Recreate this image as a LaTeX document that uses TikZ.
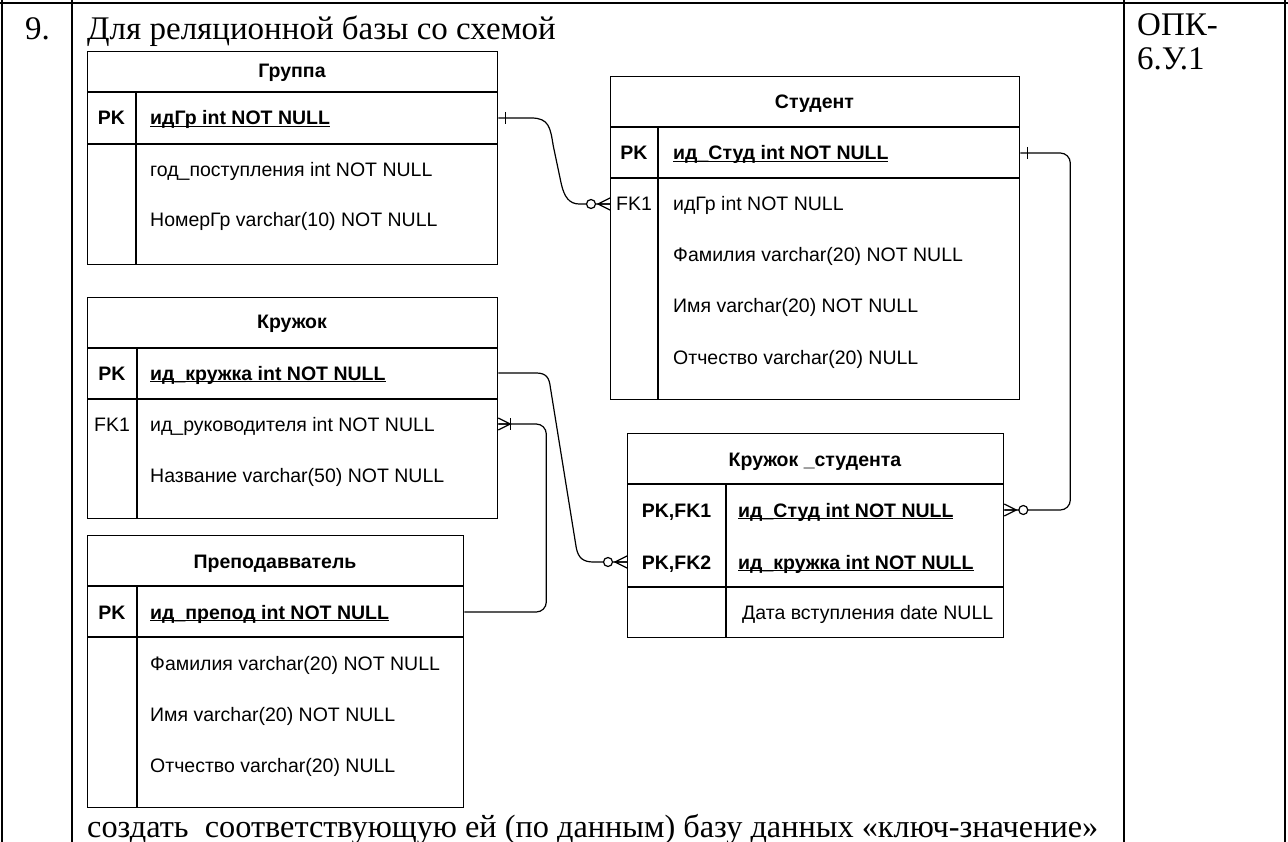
\documentclass[tikz,border=0pt]{standalone}
\usepackage{fontspec}
\setmainfont{Liberation Serif}
\setsansfont{Liberation Sans}
\usepackage{tikz}
\newcommand{\erfont}{\sffamily\fontsize{19.5}{23}\selectfont}
\newcommand{\docfont}{\rmfamily\fontsize{33}{36}\selectfont}
\newcommand{\pkname}[1]{\setbox0=\hbox{#1}\rlap{\rule[-2.2pt]{\wd0}{1.1pt}}\box0}
\newcommand{\markone}[3][7]{\draw[relation,shift={(#2)},xscale=#3] (#1,-6) -- (#1,6);}
\newcommand{\markmany}[2]{\draw[relation,shift={(#1)},xscale=#2] (0,-6) -- (12,0) -- (0,6) (0,0) -- (12,0);}
\newcommand{\markzero}[2]{\draw[relation,shift={(#1)},xscale=#2,fill=white] (19,0) circle[radius=4.5pt];}
\tikzset{
    entity/.style={draw, line width=1.3pt, inner sep=0pt, anchor=north west},
    ername/.style={font=\erfont\bfseries, inner sep=0pt, text height=14pt, text depth=0pt},
    erkey/.style={font=\erfont, inner sep=0pt, text height=14pt, text depth=0pt},
    erfield/.style={font=\erfont, inner sep=0pt, text height=14pt, text depth=0pt, anchor=west},
    doctext/.style={font=\docfont, inner sep=0pt, anchor=base west},
    relation/.style={line width=1.2pt},
}

\begin{document}
\begin{tikzpicture}[x=1pt, y=-1pt]
    \useasboundingbox (0,0) rectangle (1288,842);

    % outer table
    \draw[line width=2.5pt] (0,3) -- (1288,3);
    \draw[line width=2.5pt] (2,0) -- (2,842) (72,0) -- (72,842) (1124,0) -- (1124,842) (1285,0) -- (1285,842);
    \node[doctext] (num) at (25,40) {9.};
    \node[doctext] (task) at (87,40) {Для реляционной базы со схемой};
    \node[doctext] (code1) at (1137,36) {ОПК-};
    \node[doctext] (code2) at (1137,70) {6.У.1};
    \node[doctext, font=\rmfamily\fontsize{32.3}{36}\selectfont] (todo) at (87,837) {создать\ \ соответствующую ей (по данным) базу данных «ключ-значение»};

    % Группа
    \node[entity, minimum width=410, minimum height=213] (gruppa) at (87,51) {};
    \draw[line width=1.3pt] (87,92) -- (497,92) (87,144) -- (497,144) (136,92) -- (136,264);
    \node[ername] (grp) at (292,71) {Группа};
    \node[ername] (grp-key) at (111.5,118) {PK};
    \node[erfield, font=\erfont\bfseries] (grp-pk) at (150,118) {\pkname{идГр int NOT NULL}};
    \node[erfield] (grp-year) at (150,170) {год\_поступления int NOT NULL};
    \node[erfield] (grp-num) at (150,220) {НомерГр varchar(10) NOT NULL};

    % Студент
    \node[entity, minimum width=409, minimum height=323] (student) at (610,76) {};
    \draw[line width=1.3pt] (610,127) -- (1019,127) (610,178) -- (1019,178) (658,127) -- (658,399);
    \node[ername] (st) at (814.5,102) {Студент};
    \node[ername] (st-key) at (634,153) {PK};
    \node[erkey] (st-fkkey) at (634,204) {FK1};
    \node[erfield, font=\erfont\bfseries] (st-pk) at (673,153) {\pkname{ид\_Студ int NOT NULL}};
    \node[erfield] (st-fk) at (673,204) {идГр int NOT NULL};
    \node[erfield] (st-fam) at (673,255) {Фамилия varchar(20) NOT NULL};
    \node[erfield] (st-name) at (673,306) {Имя varchar(20) NOT NULL};
    \node[erfield] (st-otch) at (673,357) {Отчество varchar(20) NULL};

    % Кружок
    \node[entity, minimum width=410, minimum height=221] (kruzhok) at (87,297) {};
    \draw[line width=1.3pt] (87,348) -- (497,348) (87,399) -- (497,399) (137,348) -- (137,518);
    \node[ername] (kr) at (292,322) {Кружок};
    \node[ername] (kr-key) at (112,373) {PK};
    \node[erkey] (kr-fkkey) at (112,424) {FK1};
    \node[erfield, font=\erfont\bfseries] (kr-pk) at (150,373) {\pkname{ид\_кружка int NOT NULL}};
    \node[erfield] (kr-lead) at (150,424) {ид\_руководителя int NOT NULL};
    \node[erfield] (kr-title) at (150,475) {Название varchar(50) NOT NULL};

    % Преподавватель
    \node[entity, minimum width=376, minimum height=272] (prepod) at (87,535) {};
    \draw[line width=1.3pt] (87,586) -- (463,586) (87,637) -- (463,637) (137,586) -- (137,807);
    \node[ername] (pr) at (275,561) {Преподавватель};
    \node[ername] (pr-key) at (112,612) {PK};
    \node[erfield, font=\erfont\bfseries] (pr-pk) at (150,612) {\pkname{ид\_препод int NOT NULL}};
    \node[erfield] (pr-fam) at (150,663) {Фамилия varchar(20) NOT NULL};
    \node[erfield] (pr-name) at (150,714) {Имя varchar(20) NOT NULL};
    \node[erfield] (pr-otch) at (150,765) {Отчество varchar(20) NULL};

    % Кружок_студента
    \node[entity, minimum width=376, minimum height=204] (kstud) at (627,433) {};
    \draw[line width=1.3pt] (627,484) -- (1003,484) (627,587) -- (1003,587) (726,484) -- (726,637);
    \node[ername] (ks) at (815,459) {Кружок \_студента};
    \node[ername] (ks-key1) at (676.5,510) {PK,FK1};
    \node[ername] (ks-key2) at (676.5,562) {PK,FK2};
    \node[erfield, font=\erfont\bfseries] (ks-stud) at (738,510) {\pkname{ид\_Студ int NOT NULL}};
    \node[erfield, font=\erfont\bfseries] (ks-kr) at (738,562) {\pkname{ид\_кружка int NOT NULL}};
    \node[erfield] (ks-date) at (742,612) {Дата вступления date NULL};

    % связи
    \draw[relation] (gruppa.east |- grp-pk) -- ++(33,0) .. controls +(18,0) and +(-3,-18) .. ++(22,28)
        -- ++(8,38) .. controls +(3,13) and +(-10,0) .. ++(18,20) -- (student.west |- st-fk);
    \draw[relation, rounded corners=10pt] (student.east |- st-pk) -- ++(50,0) |- (kstud.east |- ks-stud);
    \draw[relation] (kruzhok.east |- kr-pk) -- ++(38,0) .. controls +(10,0) and +(-1,-9) .. ++(14,14)
        -- ++(26,161) .. controls +(2,10) and +(-10,0) .. ++(17,14) -- (kstud.west |- ks-kr);
    \draw[relation, rounded corners=10pt] (prepod.east |- pr-pk) -- ++(82,0) |- (kruzhok.east |- kr-lead);

    \markone{gruppa.east |- grp-pk}{1}
    \markmany{student.west |- st-fk}{-1}
    \markzero{student.west |- st-fk}{-1}
    \markone{student.east |- st-pk}{1}
    \markmany{kstud.east |- ks-stud}{1}
    \markzero{kstud.east |- ks-stud}{1}
    \markmany{kstud.west |- ks-kr}{-1}
    \markzero{kstud.west |- ks-kr}{-1}
    \markmany{kruzhok.east |- kr-lead}{1}
    \markone[12]{kruzhok.east |- kr-lead}{1}
\end{tikzpicture}
\end{document}
